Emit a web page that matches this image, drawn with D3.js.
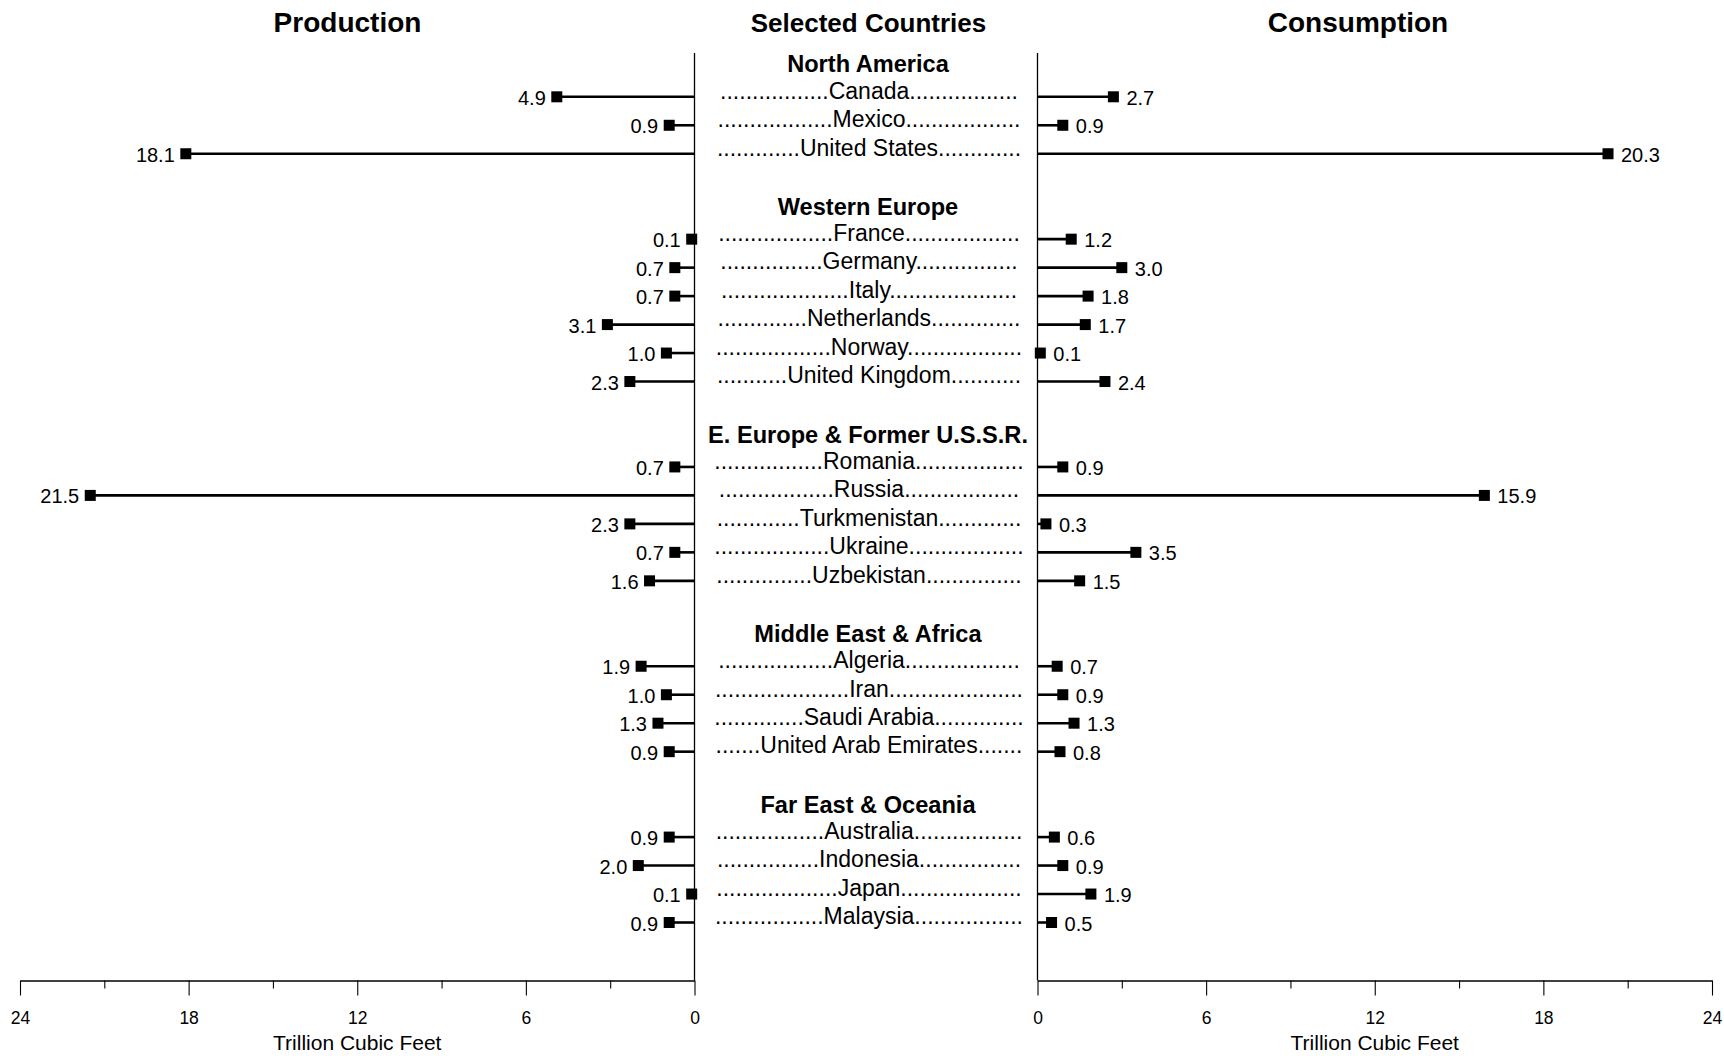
<!DOCTYPE html>
<html>
<head>
<meta charset="utf-8">
<script src="https://cdn.jsdelivr.net/npm/d3@7"></script>
<style>
  html, body { margin: 0; padding: 0; background: #fff; }
  svg { display: block; font-family: "Liberation Sans", Arial, sans-serif; }
</style>
</head>
<body>
<svg id="chart" width="1724" height="1056"></svg>
<script>
// Natural gas production and consumption, selected countries (trillion cubic feet)
const regions = [
  "North America",
  "Western Europe",
  "E. Europe & Former U.S.S.R.",
  "Middle East & Africa",
  "Far East & Oceania"
];
const countries = [
  ["Canada", "Mexico", "United States"],
  ["France", "Germany", "Italy", "Netherlands", "Norway", "United Kingdom"],
  ["Romania", "Russia", "Turkmenistan", "Ukraine", "Uzbekistan"],
  ["Algeria", "Iran", "Saudi Arabia", "United Arab Emirates"],
  ["Australia", "Indonesia", "Japan", "Malaysia"]
];
const production = [
  [4.9, 0.9, 18.1],
  [0.1, 0.7, 0.7, 3.1, 1.0, 2.3],
  [0.7, 21.5, 2.3, 0.7, 1.6],
  [1.9, 1.0, 1.3, 0.9],
  [0.9, 2.0, 0.1, 0.9]
];
const consumption = [
  [2.7, 0.9, 20.3],
  [1.2, 3.0, 1.8, 1.7, 0.1, 2.4],
  [0.9, 15.9, 0.3, 3.5, 1.5],
  [0.7, 0.9, 1.3, 0.8],
  [0.6, 0.9, 1.9, 0.5]
];
const tickValues = [0, 3, 6, 9, 12, 15, 18, 21, 24];
const tickLabels = ["0", "", "6", "", "12", "", "18", "", "24"];

// Rows sit on a regular grid; two empty grid rows separate regions,
// and each region header sits a little above its first country.
const rows = [];
let idx = 0;
regions.forEach((r, gi) => {
  rows.push({ type: "header", name: r, slot: idx - 1.15 });
  countries[gi].forEach((c, i) => {
    rows.push({ type: "row", name: c, slot: idx + i,
                prod: production[gi][i], cons: consumption[gi][i] });
  });
  idx += countries[gi].length + 2;
});
const lastSlot = d3.max(rows, d => d.slot);

const svg = d3.select("#chart");
const y = d3.scaleLinear().domain([0, lastSlot]).range([96.8, 922.5]);
const xL = d3.scaleLinear().domain([0, 24]).range([694.5, 20]);
const xR = d3.scaleLinear().domain([0, 24]).range([1037.5, 1712]);
const axisY = 980.5;
const labelX = 869;

// Panel titles
const titles = [["Production", 347.5, 28], ["Selected Countries", 868.5, 26], ["Consumption", 1358, 28]];
svg.selectAll("text.title").data(titles).join("text")
  .attr("class", "title")
  .attr("x", d => d[1])
  .attr("y", 32)
  .attr("text-anchor", "middle")
  .attr("font-size", d => d[2]).attr("font-weight", "bold")
  .text(d => d[0]);

// Zero lines of both panels
[xL(0), xR(0)].forEach(x => {
  svg.append("line").attr("x1", x).attr("x2", x).attr("y1", 53).attr("y2", axisY)
    .attr("stroke", "#000").attr("stroke-width", 1.3);
});

// Axes
function drawAxis(scale) {
  const g = svg.append("g").attr("transform", `translate(0,${axisY})`)
    .call(d3.axisBottom(scale).tickValues(tickValues).tickSizeOuter(0)
      .tickFormat((d, i) => tickLabels[i]));
  g.select(".domain").attr("stroke", "#000").attr("stroke-width", 1.3);
  g.selectAll(".tick line").attr("stroke", "#000").attr("stroke-width", 1.1)
    .attr("y2", d => d % 6 === 0 ? 15 : 8);
  g.selectAll(".tick text").attr("y", 0).attr("dy", 0)
    .attr("transform", "translate(0,43)")
    .attr("font-size", 17.5).attr("font-family", "Liberation Sans, Arial, sans-serif")
    .attr("fill", "#000");
  const [a, b] = scale.range();
  svg.append("text").attr("x", (a + b) / 2).attr("y", 1049.5)
    .attr("text-anchor", "middle").attr("font-size", 21)
    .text("Trillion Cubic Feet");
}
drawAxis(xL);
drawAxis(xR);

// Region headers
svg.selectAll("text.header").data(rows.filter(d => d.type === "header")).join("text")
  .attr("class", "header")
  .attr("x", labelX - 1).attr("y", d => y(d.slot) + 8.4)
  .attr("text-anchor", "middle")
  .attr("font-size", 23.6).attr("font-weight", "bold")
  .text(d => d.name);

// Country labels with dotted leaders on both sides
const dataRows = rows.filter(d => d.type === "row");
const meas = svg.append("text").attr("font-size", 23).attr("visibility", "hidden");
meas.text("..........");
const dotW = meas.node().getComputedTextLength() / 10;
const fullW = 310;
dataRows.forEach(d => {
  meas.text(d.name);
  const w = meas.node().getComputedTextLength();
  const n = Math.max(0, Math.floor((fullW - w) / 2 / dotW));
  d.label = ".".repeat(n) + d.name + ".".repeat(n);
});
meas.remove();
svg.selectAll("text.country").data(dataRows).join("text")
  .attr("class", "country")
  .attr("x", labelX).attr("y", d => y(d.slot) + 1.8)
  .attr("text-anchor", "middle").attr("font-size", 23)
  .text(d => d.label);

// Stems, markers and value labels
const sides = [
  { scale: xL, key: "prod", anchor: "end", off: -11 },
  { scale: xR, key: "cons", anchor: "start", off: 13 }
];
sides.forEach(s => {
  const g = svg.append("g");
  g.selectAll("line").data(dataRows).join("line")
    .attr("x1", s.scale(0)).attr("x2", d => s.scale(d[s.key]))
    .attr("y1", d => y(d.slot)).attr("y2", d => y(d.slot))
    .attr("stroke", "#000").attr("stroke-width", 2.6);
  g.selectAll("rect").data(dataRows).join("rect")
    .attr("x", d => s.scale(d[s.key]) - 5.5).attr("y", d => y(d.slot) - 5.5)
    .attr("width", 11).attr("height", 11).attr("fill", "#000");
  g.selectAll("text").data(dataRows).join("text")
    .attr("x", d => s.scale(d[s.key]) + s.off).attr("y", d => y(d.slot) + 8)
    .attr("text-anchor", s.anchor).attr("font-size", 20)
    .text(d => d[s.key].toFixed(1));
});
</script>
</body>
</html>
